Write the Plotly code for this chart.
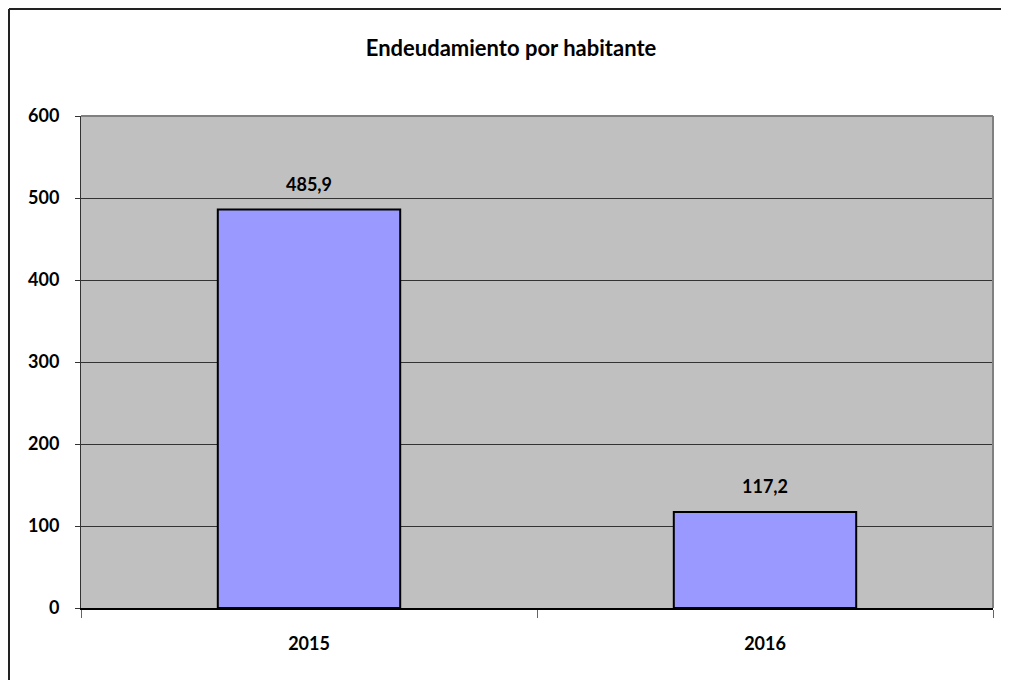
import plotly.graph_objects as go

categories = ["2015", "2016"]
values = [485.9, 117.2]
value_labels = ["485,9", "117,2"]
y_ticks = [0, 100, 200, 300, 400, 500, 600]

FONT = "Lato, Carlito, Calibri, sans-serif"

# page has an 8px body margin; work in figure coordinates = screen - 8
OFF = 8
W, H = 1001, 672
L, R, T, B = 81 - OFF, 16, 116 - OFF, 72
pw, ph = W - L - R, H - T - B

def px_x(x):
    return (x - OFF - L) / pw

def px_y(y):
    return (H - B - (y - OFF)) / ph

fig = go.Figure(go.Bar(
    x=categories, y=values, width=0.4,
    marker=dict(color="#9999FF", line=dict(color="black", width=2)),
    hoverinfo="x+y",
))

for i, (v, t) in enumerate(zip(values, value_labels)):
    fig.add_annotation(x=i, y=v, text=f"<b>{t}</b>", showarrow=False,
                       yanchor="middle", yshift=26,
                       font=dict(family=FONT, size=18, color="black"))

fig.update_layout(
    width=W, height=H,
    margin=dict(l=L, r=R, t=T, b=B),
    paper_bgcolor="white", plot_bgcolor="#C0C0C0",
    separators=",.",
    showlegend=False,
    title=dict(text="<b>Endeudamiento por habitante</b>", x=px_x(511), xref="paper",
               xanchor="center", y=1 - (48 - OFF) / H, yanchor="middle",
               font=dict(family=FONT, size=22, color="black")),
    font=dict(family=FONT, color="black"),
)
fig.update_yaxes(
    range=[0, 600], tickvals=y_ticks, showgrid=True, gridcolor="#333333", gridwidth=1,
    showline=True, linecolor="#333333", linewidth=1, ticks="outside", ticklen=5,
    tickcolor="#333333", ticklabelstandoff=12,
    tickfont=dict(family=FONT, size=18, color="black", weight="bold"), zeroline=False,
)
fig.update_xaxes(
    type="category", categoryorder="array", categoryarray=categories,
    range=[-0.5, len(categories) - 0.5],
    showline=True, linecolor="black", linewidth=2, ticks="outside", tickson="boundaries",
    ticklen=8, tickcolor="#666666", ticklabelstandoff=18,
    tickfont=dict(family=FONT, size=18, color="black", weight="bold"),
)
# plot-area border (top and right)
fig.add_shape(type="line", xref="paper", yref="paper", x0=0, x1=1, y0=1, y1=1,
              line=dict(color="#808080", width=2))
fig.add_shape(type="line", xref="paper", yref="paper", x0=1, x1=1, y0=0, y1=1,
              line=dict(color="#808080", width=2))
# outer chart border (only left and top edges are visible in the picture)
fig.add_shape(type="line", xref="paper", yref="paper",
              x0=px_x(9), x1=px_x(1100), y0=px_y(9), y1=px_y(9),
              line=dict(color="#222222", width=2), layer="below")
fig.add_shape(type="line", xref="paper", yref="paper",
              x0=px_x(9), x1=px_x(9), y0=px_y(9), y1=px_y(760),
              line=dict(color="#222222", width=2), layer="below")

fig.write_html("out.html")
